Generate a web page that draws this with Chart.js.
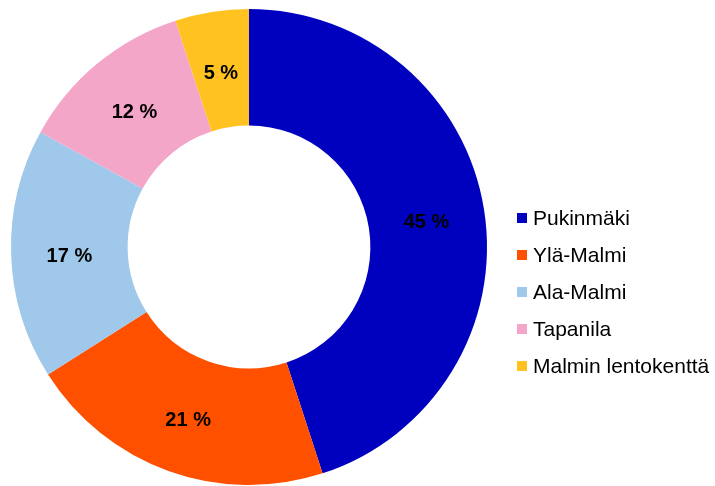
<!DOCTYPE html>
<html>
<head>
<meta charset="utf-8">
<script src="https://cdn.jsdelivr.net/npm/chart.js@4"></script>
<style>
  body { margin: 0; background: #fff; }
  #wrap { position: relative; width: 715px; height: 486px; }
  #legend { position: absolute; left: 517px; top: 199px; font: 21px "Liberation Sans", Arial, sans-serif; color: #000; }
  .item { height: 37px; line-height: 37px; display: flex; align-items: center; white-space: nowrap; }
  .box { width: 10px; height: 10px; margin-right: 6px; flex: none; }
</style>
</head>
<body>
<div id="wrap">
  <canvas id="myChart"></canvas>
  <div id="legend"></div>
</div>
<script>
const LABELS = ['Pukinmäki', 'Ylä-Malmi', 'Ala-Malmi', 'Tapanila', 'Malmin lentokenttä'];
const VALUES = [45, 21, 17, 12, 5];
const COLORS = ['#0000BF', '#FF5000', '#A0C8EA', '#F4A6C9', '#FFC220'];

// percentage labels in the middle of each ring segment
const SLICE_LABELS = {
  id: 'sliceLabels',
  afterDatasetsDraw(chart) {
    const { ctx } = chart;
    const meta = chart.getDatasetMeta(0);
    ctx.save();
    ctx.font = 'bold 20px "Liberation Sans", Arial, sans-serif';
    ctx.fillStyle = '#000';
    ctx.textAlign = 'center';
    ctx.textBaseline = 'middle';
    meta.data.forEach((arc, i) => {
      const pos = arc.tooltipPosition();
      ctx.fillText(VALUES[i] + ' %', pos.x, pos.y + 4); // sits a bit low in the original
    });
    ctx.restore();
  }
};

const CONFIG = {
  type: 'doughnut',
  data: {
    labels: LABELS,
    datasets: [{
      data: VALUES,
      backgroundColor: COLORS,
      borderWidth: 0
    }]
  },
  options: {
    responsive: true,
    maintainAspectRatio: false,
    animation: false,
    cutout: '51%',
    layout: { padding: { left: 11, top: 9, right: 228, bottom: 1 } },
    plugins: {
      legend: { display: false },
      tooltip: { enabled: false }
    }
  },
  plugins: [SLICE_LABELS]
};

const MY_CHART = new Chart(document.getElementById('myChart'), CONFIG);

// legend on the right
const LEGEND = document.getElementById('legend');
LABELS.forEach((label, i) => {
  const ROW = document.createElement('div');
  ROW.className = 'item';
  const BOX = document.createElement('span');
  BOX.className = 'box';
  BOX.style.background = COLORS[i];
  const TXT = document.createElement('span');
  TXT.textContent = label;
  ROW.appendChild(BOX);
  ROW.appendChild(TXT);
  LEGEND.appendChild(ROW);
});
</script>
</body>
</html>
